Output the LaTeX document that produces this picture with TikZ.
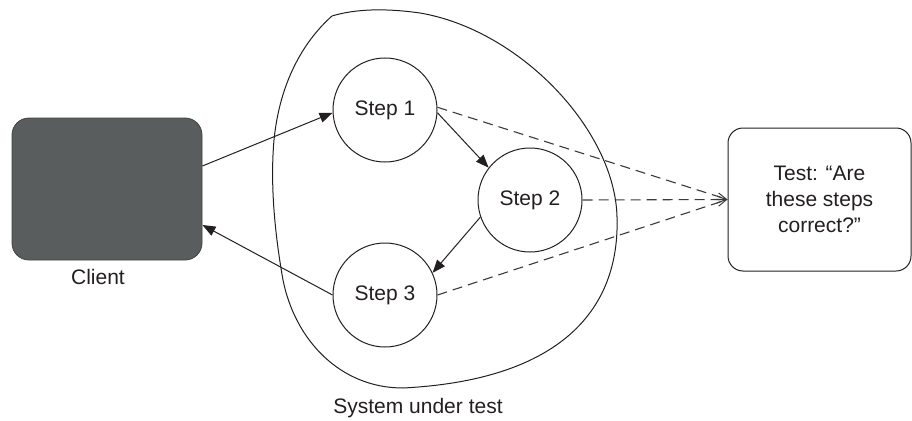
\documentclass[tikz,border=0pt]{standalone}
\usepackage{fontspec}
\setmainfont{Liberation Sans}
\usetikzlibrary{arrows.meta}
\definecolor{clientgray}{HTML}{5A5D5E}
\definecolor{clientedge}{HTML}{3E4041}
\definecolor{ink}{HTML}{231F20}
\definecolor{dashgray}{HTML}{3A3A3A}
\begin{document}
\begin{tikzpicture}[x=1pt,y=-1pt,
  font=\fontsize{21pt}{26pt}\selectfont,
  stepnode/.style={circle, draw=ink, line width=1pt, minimum size=104pt, inner sep=0pt, text=ink},
  clientbox/.style={rectangle, rounded corners=17pt, fill=clientgray, draw=clientedge, line width=0.8pt, minimum width=190pt, minimum height=142pt},
  testbox/.style={rectangle, rounded corners=15pt, draw=ink, line width=1pt, minimum width=183pt, minimum height=143pt, align=center, text=ink},
  plainlabel/.style={text=ink, inner sep=0pt},
  flow/.style={draw=ink, line width=1pt, -{Triangle[length=13pt,width=10pt]}},
  check/.style={draw=dashgray, line width=1.1pt, dash pattern=on 10pt off 6pt, -{Straight Barb[length=9pt,width=7pt,line width=1pt]}},
  blobline/.style={draw=ink, line width=1pt}
]
\useasboundingbox (0,0) rectangle (912,420);

% system boundary
\draw[blobline] (332,16) .. controls (355,9) and (385,8) .. (420,13)
  .. controls (520,30) and (615,130) .. (617,217)
  .. controls (620,310) and (560,380) .. (403,388)
  .. controls (340,388) and (295,340) .. (283,280)
  .. controls (275,235) and (270,185) .. (274,140)
  .. controls (280,80) and (305,40) .. (332,16) -- cycle;

\node[clientbox] (client) at (107,189) {};
\node[plainlabel] (clientlabel) at (98,277) {Client};

\node[stepnode] (s1) at (385,110) {Step 1};
\node[stepnode] (s2) at (530,200) {Step 2};
\node[stepnode] (s3) at (385,295) {Step 3};

\node[testbox] (test) at (819.5,199.5) {Test: “Are\\these steps\\correct?”};

\node[plainlabel] (sutlabel) at (418,408) {System under test};

\draw[flow] ([yshift=23pt]client.east) -- (s1.183);
\draw[flow] (s3.west) -- ([yshift=-36pt]client.east);
\draw[flow] (s1.-3) -- (s2.142);
\draw[flow] (s2.199) -- (s3.25);

\draw[check] (s1.3) -- (test.west);
\draw[check] (s2.east) -- (test.west);
\draw[check] (s3.east) -- (test.west);
\end{tikzpicture}
\end{document}
